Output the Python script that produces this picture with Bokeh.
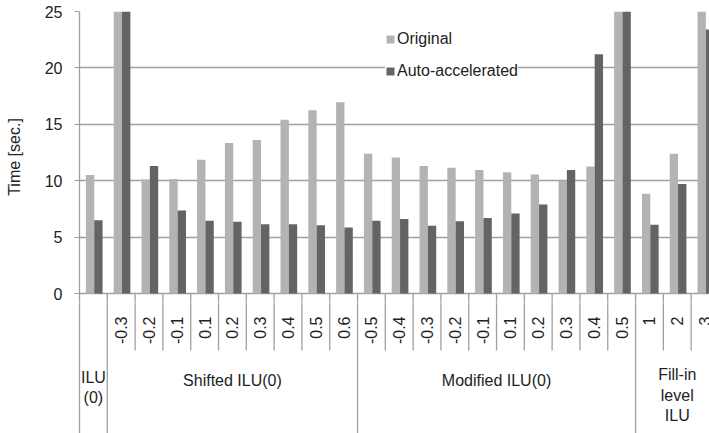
import numpy as np
from bokeh.plotting import figure
from bokeh.layouts import column
from bokeh.models import Range1d, FixedTicker, ColumnDataSource, Legend
from bokeh.core.properties import value
from bokeh.embed import file_html
from bokeh.resources import INLINE

# ---- data ----
groups = [["ILU", "(0)"], ["Shifted ILU(0)"], ["Modified ILU(0)"], ["Fill-in", "level", "ILU"]]
group_sizes = [1, 9, 10, 3]
categories = ["",
              "-0.3", "-0.2", "-0.1", "0.1", "0.2", "0.3", "0.4", "0.5", "0.6",
              "-0.5", "-0.4", "-0.3", "-0.2", "-0.1", "0.1", "0.2", "0.3", "0.4", "0.5",
              "1", "2", "3"]
original = [10.5,
            30.0, 10.1, 10.15, 11.85, 13.35, 13.6, 15.4, 16.25, 16.95,
            12.4, 12.05, 11.3, 11.15, 10.95, 10.75, 10.55, 10.0, 11.25, 30.0,
            8.85, 12.4, 30.0]
accelerated = [6.5,
               30.0, 11.3, 7.35, 6.45, 6.35, 6.15, 6.15, 6.05, 5.85,
               6.45, 6.6, 6.0, 6.4, 6.7, 7.1, 7.9, 10.95, 21.2, 30.0,
               6.1, 9.7, 23.4]
y_ticks = [0, 5, 10, 15, 20, 25]

# ---- styling ----
FONT = "Liberation Sans"
TXT = "#222222"
LIGHT = "#b3b3b3"
DARK = "#646464"
LINE = "#a0a0a0"
W, H = 709, 433
LEFT, TOP = 79, 11
ZERO = 293                    # pixel row of value 0
H1 = ZERO + 9                 # height of the bar panel
H2 = H - H1                   # height of the category panel
PX = 11.28                    # pixels per data unit on y
X_END = 22.66

n = len(categories)
idx = np.arange(n)
xr = Range1d(0, X_END)

# ---------- upper panel: bars ----------
p = figure(width=W, height=H1, output_backend="svg", toolbar_location=None,
           x_range=xr, y_range=Range1d(-(H1 - ZERO) / PX, 25),
           min_border_left=LEFT, min_border_right=0, min_border_top=TOP, min_border_bottom=0,
           x_axis_location=None)
p.outline_line_color = None
p.xgrid.visible = False

src = ColumnDataSource(dict(xl=idx + 0.38, xd=idx + 0.68, o=original, a=accelerated))
r1 = p.vbar(x="xl", top="o", bottom=0, width=0.3, source=src, fill_color=LIGHT, line_color=None)
r2 = p.vbar(x="xd", top="a", bottom=0, width=0.3, source=src, fill_color=DARK, line_color=None)

ax = p.yaxis[0]
ax.ticker = FixedTicker(ticks=y_ticks)
ax.axis_line_color = LINE
ax.axis_line_width = 1.3
ax.major_tick_line_color = LINE
ax.major_tick_out = 5
ax.major_tick_in = 0
ax.minor_tick_line_color = None
ax.major_label_text_font = FONT
ax.major_label_text_font_size = "16px"
ax.major_label_text_color = TXT
ax.major_label_standoff = 12
ax.axis_label = "Time [sec.]"
ax.axis_label_text_font = FONT
ax.axis_label_text_font_size = "16px"
ax.axis_label_text_font_style = "normal"
ax.axis_label_text_color = TXT
ax.axis_label_standoff = 19
p.ygrid.ticker = FixedTicker(ticks=y_ticks)
p.ygrid.grid_line_color = LINE
p.ygrid.grid_line_width = 1.3

legend = Legend(items=[("Original", [r1]), ("Auto-accelerated", [r2])],
                location=(306, 352 - H2), orientation="vertical",
                glyph_width=10, glyph_height=10, label_standoff=2,
                label_height=20, spacing=12, padding=6, margin=0,
                label_text_font=FONT, label_text_font_size="16px", label_text_color=TXT,
                border_line_color=None, background_fill_color="white", background_fill_alpha=1)
p.add_layout(legend)

# ---------- lower panel: two-level category axis ----------
q = figure(width=W, height=H2, output_backend="svg", toolbar_location=None,
           x_range=xr, y_range=Range1d(-(H - ZERO) / PX, -(H1 - ZERO) / PX),
           min_border_left=LEFT, min_border_right=0, min_border_top=0, min_border_bottom=0,
           x_axis_location=None)
q.outline_line_color = None
q.grid.visible = False
qa = q.yaxis[0]
qa.ticker = FixedTicker(ticks=[])
qa.axis_line_color = LINE
qa.axis_line_width = 1.3
qa.major_label_text_font_size = "0px"
qa.major_tick_line_color = None
qa.minor_tick_line_color = None

bounds = list(range(1, n + 1))
group_edges = list(np.cumsum(group_sizes))
tick_end = -57 / PX
y_bottom = -(H - ZERO) / PX
sep = dict(x0=bounds, x1=bounds, y0=[0] * len(bounds),
           y1=[y_bottom if b in group_edges else tick_end for b in bounds])
for fig in (p, q):
    fig.segment(line_color=LINE, line_width=1.3, **sep)

q.text(x=idx + 0.5, y=[-23 / PX] * n, text=categories, angle=np.pi / 2,
       text_align="right", text_baseline="middle", text_font=value(FONT),
       text_font_size="16px", text_color=TXT)

gx, gy, gt = [], [], []
start = 0
for lines, size in zip(groups, group_sizes):
    c = 87 + (len(lines) - 1) * 7.3
    for k, t in enumerate(lines):
        gx.append(start + size / 2)
        gy.append(-(c + (k - (len(lines) - 1) / 2) * 20.3) / PX)
        gt.append(t)
    start += size
q.text(x=gx, y=gy, text=gt, text_align="center", text_baseline="middle",
       text_font=value(FONT), text_font_size="16px", text_color=TXT)

layout = column(p, q, spacing=0)
open("out.html", "w").write(file_html(layout, INLINE))
